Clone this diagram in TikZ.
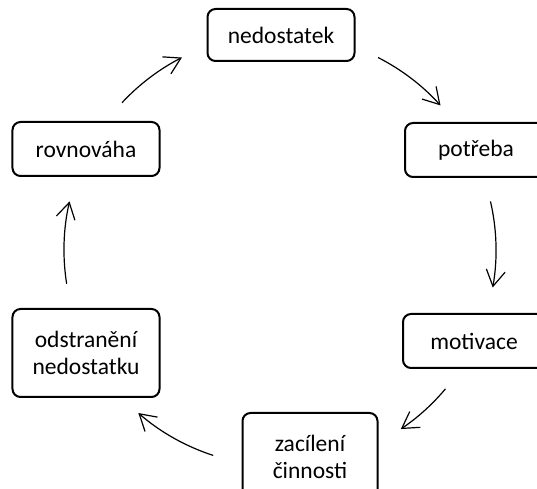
\documentclass[tikz,border=0pt]{standalone}
\usepackage{fontspec}
\setmainfont{Carlito}
\usepackage{tikz}
\usetikzlibrary{arrows.meta}
\tikzset{>={Straight Barb[length=8bp,width=9.5bp]}}
\tikzset{cyclebox/.style={draw=black, line width=1bp, rounded corners=4bp, align=center,
    minimum width=73.5bp, minimum height=27bp, inner sep=2bp,
    font=\fontsize{11.8}{13.5}\selectfont}}

\begin{document}
\begin{tikzpicture}[x=0.5bp, y=0.5bp]
    \clip (0,0) rectangle (537,489);
    \node[cyclebox, minimum height=26bp] (Ned) at (281,454) {nedostatek};
    \node[cyclebox, minimum width=71bp] (Pot) at (476,339) {potřeba};
    \node[cyclebox, minimum width=71bp] (Mot) at (474,148) {motivace};
    \node[cyclebox, minimum width=67.5bp, minimum height=44bp] (Cil) at (310,32) {zacílení\\činnosti};
    \node[cyclebox, minimum height=44bp] (Odst) at (86,136) {odstranění\\nedostatku};
    \node[cyclebox] (Rov) at (86,340) {rovnováha};
    \coordinate (Ctr) at (280,239);
    \foreach \a/\b in {137/117, 63/42, 13/-10, -40/-56, -108/-131, 189/167}
      \draw[->, line width=0.6bp] (Ctr) ++(\a:108bp) arc[start angle=\a, end angle=\b, radius=108bp];
\end{tikzpicture}
\end{document}
